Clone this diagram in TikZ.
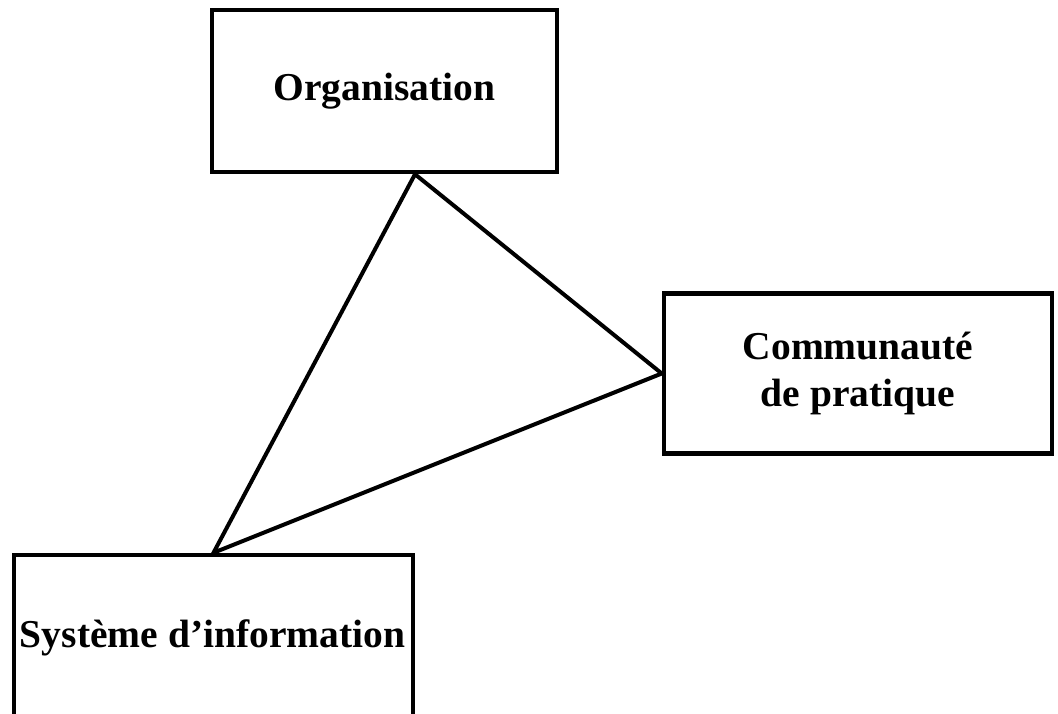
\documentclass[tikz,border=0pt]{standalone}
\usepackage{fontspec}
\setmainfont{Liberation Serif}
\begin{document}
\begin{tikzpicture}[x=1pt,y=-1pt,
  lbl/.style={font=\fontsize{39.5}{47}\selectfont\bfseries},
  box/.style={draw, line width=4.5pt, inner sep=0pt, align=center, lbl},
  tri/.style={line width=4pt, line join=miter}]
\clip (0,0) rectangle (1058,714);
\fill[white] (0,0) rectangle (1058,714);
\node[box, minimum width=345pt, minimum height=162pt] (org) at (384.5,91) {Organisation};
\node[box, minimum width=388pt, minimum height=160pt] (comm) at (858,373.5) {Communauté\\de pratique};
\node[box, minimum width=399pt, minimum height=180pt] (sys) at (213.5,645) {};
\node[lbl, inner sep=0pt, anchor=base] (systext) at (212.5,647) {Système d’information};
\draw[tri] ([xshift=30.5pt]org.south) -- (comm.west) -- (sys.north) -- cycle;
\end{tikzpicture}
\end{document}
